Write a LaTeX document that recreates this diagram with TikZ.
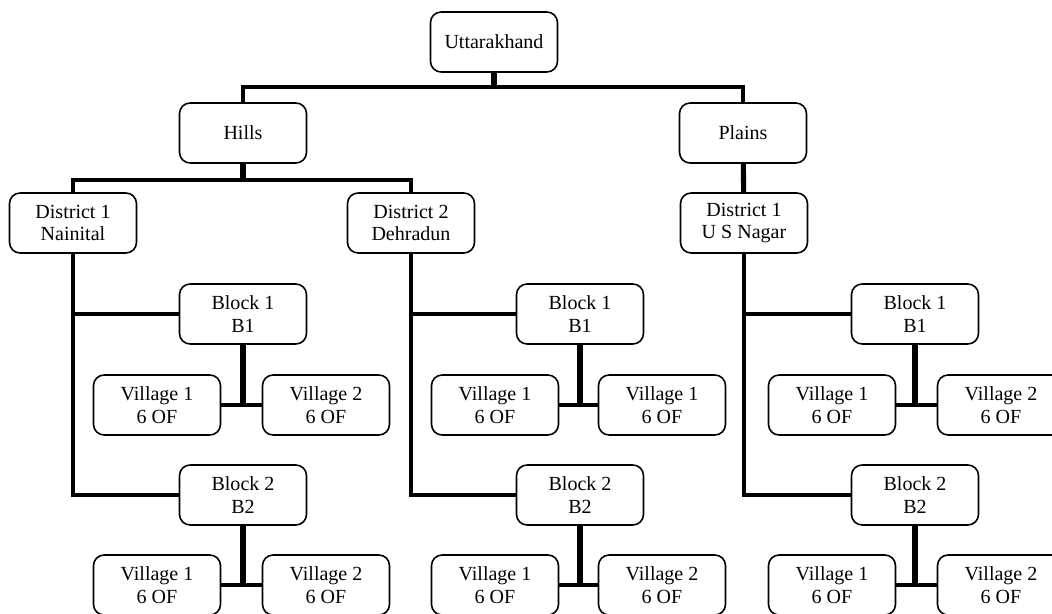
\documentclass[tikz,border=0pt]{standalone}
\usepackage{fontspec}
\setmainfont{Liberation Serif}
\usepackage{tikz}

\begin{document}
\begin{tikzpicture}[x=0.02cm,y=-0.02cm,
    unit/.style={draw,rounded corners=6pt,line width=0.9pt,fill=white,
      align=center,minimum width=2.54cm,minimum height=1.2cm,inner sep=1pt,
      font=\fontsize{11.4}{13}\selectfont},
    link/.style={line width=2.1pt},
    trunk/.style={line width=2.9pt}]
  \useasboundingbox (0,0) rectangle (1052,614);
  \clip (0,0) rectangle (1052,614);

  \node[unit] (utk) at (494,42) {Uttarakhand};
  \node[unit] (hills) at (243,133) {Hills};
  \node[unit] (plains) at (743,133) {Plains};
  \node[unit] (hd1) at (73,223) {District 1\\Nainital};
  \node[unit] (hd2) at (411,223) {District 2\\Dehradun};
  \node[unit] (pd1) at (744,223) {District 1\\U S Nagar};

  % blocks
  \node[unit] (hd1b1) at (243,314) {Block 1\\B1};
  \node[unit] (hd1b2) at (243,495) {Block 2\\B2};
  \node[unit] (hd2b1) at (580,314) {Block 1\\B1};
  \node[unit] (hd2b2) at (580,495) {Block 2\\B2};
  \node[unit] (pd1b1) at (915,314) {Block 1\\B1};
  \node[unit] (pd1b2) at (915,495) {Block 2\\B2};

  % villages
  \node[unit] (hd1b1v1) at (157,405) {Village 1\\6 OF};
  \node[unit] (hd1b1v2) at (326,405) {Village 2\\6 OF};
  \node[unit] (hd1b2v1) at (157,585) {Village 1\\6 OF};
  \node[unit] (hd1b2v2) at (326,585) {Village 2\\6 OF};
  \node[unit] (hd2b1v1) at (495,405) {Village 1\\6 OF};
  \node[unit] (hd2b1v2) at (662,405) {Village 1\\6 OF};
  \node[unit] (hd2b2v1) at (495,585) {Village 1\\6 OF};
  \node[unit] (hd2b2v2) at (662,585) {Village 2\\6 OF};
  \node[unit] (pd1b1v1) at (832,405) {Village 1\\6 OF};
  \node[unit] (pd1b1v2) at (1001,405) {Village 2\\6 OF};
  \node[unit] (pd1b2v1) at (832,585) {Village 1\\6 OF};
  \node[unit] (pd1b2v2) at (1001,585) {Village 2\\6 OF};

  \coordinate (j0) at (494,87);
  \coordinate (j1) at (243,180);

  \draw[trunk] (utk) -- (j0);
  \draw[link] (hills.north) |- (j0) -| (plains.north);
  \draw[trunk] (hills) -- (j1);
  \draw[link] (hd1.north) |- (j1) -| (hd2.north);
  \draw[trunk] (plains) -- (pd1);

  \draw[link] (hd1.south) |- (hd1b1.west)
    (hd1.south) |- (hd1b2.west)
    (hd2.south) |- (hd2b1.west)
    (hd2.south) |- (hd2b2.west)
    (pd1.south) |- (pd1b1.west)
    (pd1.south) |- (pd1b2.west);

  \draw[link] (hd1b1v1) -- (hd1b1v2) (hd1b2v1) -- (hd1b2v2)
    (hd2b1v1) -- (hd2b1v2) (hd2b2v1) -- (hd2b2v2)
    (pd1b1v1) -- (pd1b1v2) (pd1b2v1) -- (pd1b2v2);
  \draw[trunk] (hd1b1) -- (hd1b1 |- hd1b1v1)
    (hd1b2) -- (hd1b2 |- hd1b2v1)
    (hd2b1) -- (hd2b1 |- hd2b1v1)
    (hd2b2) -- (hd2b2 |- hd2b2v1)
    (pd1b1) -- (pd1b1 |- pd1b1v1)
    (pd1b2) -- (pd1b2 |- pd1b2v1);
\end{tikzpicture}
\end{document}
